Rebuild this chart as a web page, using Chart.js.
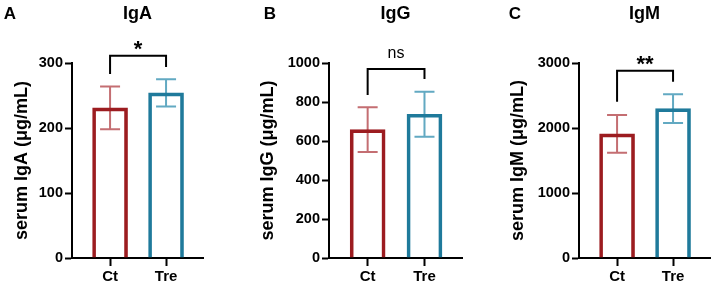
<!DOCTYPE html>
<html>
<head>
<meta charset="utf-8">
<script src="https://cdn.jsdelivr.net/npm/chart.js@4.4.1/dist/chart.umd.min.js"></script>
<style>
  html, body { margin: 0; padding: 0; background: #fff; }
  #wrap { position: relative; width: 715px; height: 286px; overflow: hidden; }
  canvas { position: absolute; top: 0; }
</style>
</head>
<body>
<div id="wrap">
  <canvas id="panelA" width="240" height="286" style="left:0px"></canvas>
  <canvas id="panelB" width="235" height="286" style="left:240px"></canvas>
  <canvas id="panelC" width="240" height="286" style="left:475px"></canvas>
</div>
<script>
const categories = ['Ct', 'Tre'];
const igaMeans = [231, 254];
const igaErrors = [33, 21];
const iggMeans = [658, 737];
const iggErrors = [115, 115];
const igmMeans = [1910, 2298];
const igmErrors = [290, 220];
const igaTicks = [0, 100, 200, 300];
const iggTicks = [0, 200, 400, 600, 800, 1000];
const igmTicks = [0, 1000, 2000, 3000];
const panelLetters = ['A', 'B', 'C'];
const panelTitles = ['IgA', 'IgG', 'IgM'];
const yTitles = ['serum IgA (μg/mL)', 'serum IgG (μg/mL)', 'serum IgM (μg/mL)'];
const sigLabels = ['*', 'ns', '**'];
// significance brackets, in axis units: top line, end of left leg, end of right leg
const bracketTops = [311, 969, 2882];
const bracketLeft = [283, 836, 2405];
const bracketRight = [294, 918, 2712];

const barColors = ['#9c1c20', '#1f7a9b'];
const errColors = ['#c46e72', '#62a9c2'];
const FONT = "'Liberation Sans', Arial, sans-serif";

// per panel placement
const layouts = [
  { canvas: 'panelA', yWidth: 72, titlePad: 11, rightPad: 37, letterX: 10, sigFont: 'bold 22px', sigShift: 0 },
  { canvas: 'panelB', yWidth: 89, titlePad: 17, rightPad: 13, letterX: 30, sigFont: '16px', sigShift: -11 },
  { canvas: 'panelC', yWidth: 104, titlePad: 32, rightPad: 5, letterX: 40, sigFont: 'bold 22px', sigShift: 0 }
];

const extras = {
  id: 'extras',
  beforeDatasetsDraw(chart, args, opts) {
    const ctx = chart.ctx;
    const y = chart.scales.y;
    const meta = chart.getDatasetMeta(0);
    ctx.save();
    ctx.lineWidth = 2;
    meta.data.forEach((bar, i) => {
      const hi = y.getPixelForValue(opts.means[i] + opts.errors[i]);
      const lo = y.getPixelForValue(opts.means[i] - opts.errors[i]);
      ctx.strokeStyle = errColors[i];
      ctx.beginPath();
      ctx.moveTo(bar.x, hi); ctx.lineTo(bar.x, lo);
      ctx.moveTo(bar.x - 10, hi); ctx.lineTo(bar.x + 10, hi);
      ctx.moveTo(bar.x - 10, lo); ctx.lineTo(bar.x + 10, lo);
      ctx.stroke();
    });
    ctx.restore();
  },
  afterDraw(chart, args, opts) {
    const ctx = chart.ctx;
    const y = chart.scales.y;
    const area = chart.chartArea;
    const bars = chart.getDatasetMeta(0).data;
    const x1 = bars[0].x, x2 = bars[1].x;
    const top = y.getPixelForValue(opts.bracket[0]);
    ctx.save();
    ctx.strokeStyle = '#000';
    ctx.lineWidth = 2;
    ctx.beginPath();
    ctx.moveTo(x1, y.getPixelForValue(opts.bracket[1]));
    ctx.lineTo(x1, top);
    ctx.lineTo(x2, top);
    ctx.lineTo(x2, y.getPixelForValue(opts.bracket[2]));
    ctx.stroke();

    ctx.fillStyle = '#000';
    ctx.textAlign = 'center';
    ctx.textBaseline = 'alphabetic';
    ctx.font = opts.sigFont + ' ' + FONT;
    ctx.fillText(opts.sig, (x1 + x2) / 2, top + opts.sigShift);

    ctx.font = 'bold 18px ' + FONT;
    ctx.fillText(opts.title, (area.left + area.right) / 2, 19);
    ctx.font = 'bold 17px ' + FONT;
    ctx.fillText(opts.letter, opts.letterX, 19);
    ctx.restore();
  }
};

function makePanel(i, means, errors, ticks) {
  const lay = layouts[i];
  const ctx = document.getElementById(lay.canvas).getContext('2d');
  return new Chart(ctx, {
    type: 'bar',
    data: {
      datasets: [{
        data: categories.map((c, k) => ({ x: k, y: means[k] })),
        backgroundColor: 'rgba(0,0,0,0)',
        borderColor: barColors,
        borderWidth: 3,
        borderSkipped: 'bottom',
        barThickness: 35
      }]
    },
    options: {
      responsive: false,
      animation: false,
      events: [],
      layout: { padding: { top: 63, left: 0, right: lay.rightPad, bottom: 0 } },
      plugins: {
        legend: { display: false },
        tooltip: { enabled: false },
        extras: {
          means: means, errors: errors,
          bracket: [bracketTops[i], bracketLeft[i], bracketRight[i]],
          sig: sigLabels[i], sigFont: lay.sigFont, sigShift: lay.sigShift,
          title: panelTitles[i], letter: panelLetters[i], letterX: lay.letterX
        }
      },
      scales: {
        x: {
          type: 'linear',
          offset: false,
          min: -0.68,
          max: 1.66,
          afterBuildTicks: s => { s.ticks = categories.map((c, k) => ({ value: k })); },
          afterFit: s => { s.height = 28; },
          grid: { offset: false, drawOnChartArea: false, tickLength: 8, tickWidth: 2, tickColor: '#000' },
          border: { color: '#000', width: 2 },
          ticks: {
            callback: v => categories[v],
            autoSkip: false, maxRotation: 0,
            color: '#000', padding: 2,
            font: { family: FONT, size: 15, weight: 'bold' }
          }
        },
        y: {
          min: ticks[0],
          max: ticks[ticks.length - 1],
          afterBuildTicks: s => { s.ticks = ticks.map(v => ({ value: v })); },
          afterFit: s => { s.width = lay.yWidth; },
          grid: { drawOnChartArea: false, tickLength: 7, tickWidth: 2, tickColor: '#000' },
          border: { color: '#000', width: 2 },
          ticks: {
            callback: v => String(v),
            color: '#000', padding: 2,
            font: { family: FONT, size: 14.5, weight: 'bold' }
          },
          title: {
            display: true,
            text: yTitles[i],
            color: '#000',
            padding: { top: lay.titlePad, bottom: 0 },
            font: { family: FONT, size: 18, weight: 'bold' }
          }
        }
      }
    },
    plugins: [extras]
  });
}

makePanel(0, igaMeans, igaErrors, igaTicks);
makePanel(1, iggMeans, iggErrors, iggTicks);
makePanel(2, igmMeans, igmErrors, igmTicks);
</script>
</body>
</html>
